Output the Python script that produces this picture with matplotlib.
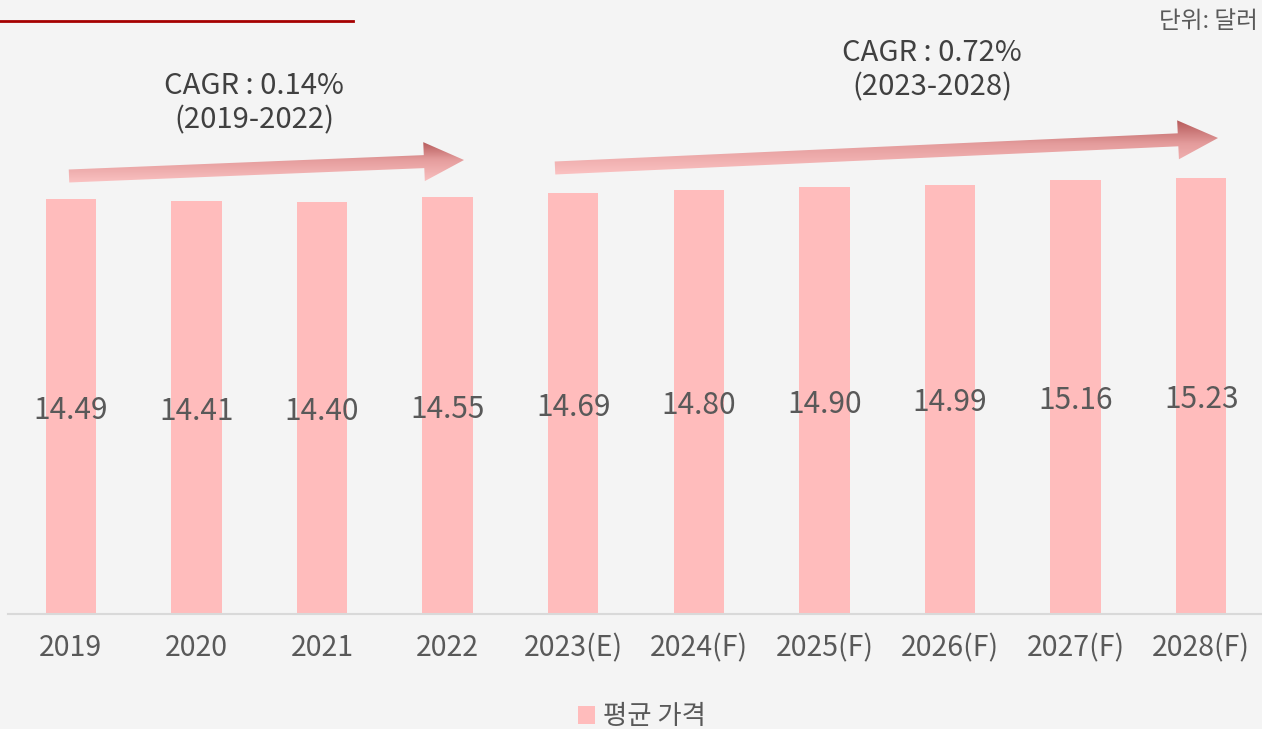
import matplotlib
matplotlib.use("Agg")
import matplotlib.pyplot as plt
from matplotlib.patches import FancyArrow, Patch
import matplotlib.colors as mcolors
import numpy as np

plt.rcParams['font.family'] = ['Noto Sans CJK KR', 'DejaVu Sans']

years = ['2019', '2020', '2021', '2022', '2023(E)', '2024(F)', '2025(F)',
         '2026(F)', '2027(F)', '2028(F)']
prices = [14.49, 14.41, 14.40, 14.55, 14.69, 14.80, 14.90, 14.99, 15.16, 15.23]
series_name = '평균 가격'
unit_label = '단위: 달러'
cagr_labels = ['CAGR : 0.14%\n(2019-2022)', 'CAGR : 0.72%\n(2023-2028)']

W, H = 1262, 729
bg = '#f4f4f4'
bar_color = '#ffbcbc'

fig = plt.figure(figsize=(W / 100, H / 100), dpi=100, facecolor=bg)
ax = fig.add_axes([8 / W, (H - 614) / H, 1256 / W, 614 / H])
ax.set_facecolor(bg)

x = np.arange(len(years))
bars = ax.bar(x, prices, width=0.4, color=bar_color, zorder=2)
for xi, v in zip(x, prices):
    ax.annotate(f'{v:.2f}', (xi, v / 2), xytext=(0, -2.5), textcoords='offset points',
                ha='center', va='center', fontsize=21.5, color='#595959', zorder=3)

ax.set_xlim(-0.5, len(years) - 0.5)
ax.set_ylim(0, 614 / 28.63)
ax.set_xticks(x)
ax.set_xticklabels(years, fontsize=20.5, color='#595959')
ax.tick_params(axis='x', length=0, pad=14)
ax.set_yticks([])
for s in ['top', 'right', 'left']:
    ax.spines[s].set_visible(False)
ax.spines['bottom'].set_color('#d9d9d9')
ax.spines['bottom'].set_linewidth(1.5)

# overlay in pixel coordinates for decorations
ov = fig.add_axes([0, 0, 1, 1], facecolor='none')
ov.axis('off')

# top red rule
ov.plot([0, 353], [21, 21], color='#a50000', lw=2)

# gradient arrows
cmap = mcolors.LinearSegmentedColormap.from_list(
    'arr', [(0, '#b25555'), (0.45, '#e49c9c'), (1, '#fbc2c2')])
arrows = [((69, 176), (464, 160)), ((555, 168), (1218, 138))]
for (x0, y0), (x1, y1) in arrows:
    arr = FancyArrow(x0, y0, x1 - x0, y1 - y0, width=13, head_width=39,
                     head_length=40, length_includes_head=True,
                     facecolor='none', edgecolor='none')
    ov.add_patch(arr)
    ymin = min(y0, y1) - 20
    ymax = max(y0, y1) + 7
    grad = np.linspace(0, 1, 100).reshape(-1, 1)
    im = ov.imshow(grad, cmap=cmap, aspect='auto',
                   extent=[x0 - 5, x1 + 5, ymax, ymin], zorder=4)
    im.set_clip_path(arr)
ov.set_xlim(0, W)
ov.set_ylim(H, 0)

# CAGR labels
ov.text(254, 103, cagr_labels[0], ha='center', va='center', fontsize=21,
        color='#404040', linespacing=1.2)
ov.text(932, 70, cagr_labels[1], ha='center', va='center', fontsize=21,
        color='#404040', linespacing=1.2)

# unit
fig.text(1258 / W, 1 - 22 / H, unit_label, ha='right', va='center',
         fontsize=17, color='#595959')

# legend
handle = Patch(facecolor=bar_color, edgecolor='none')
fig.legend([handle], [series_name], loc='center', bbox_to_anchor=(642 / W, 1 - 717 / H),
           frameon=False, fontsize=19, labelcolor='#595959', handlelength=0.65,
           handleheight=0.65, handletextpad=0.3)

fig.savefig('out.png', dpi=100, facecolor=bg)
